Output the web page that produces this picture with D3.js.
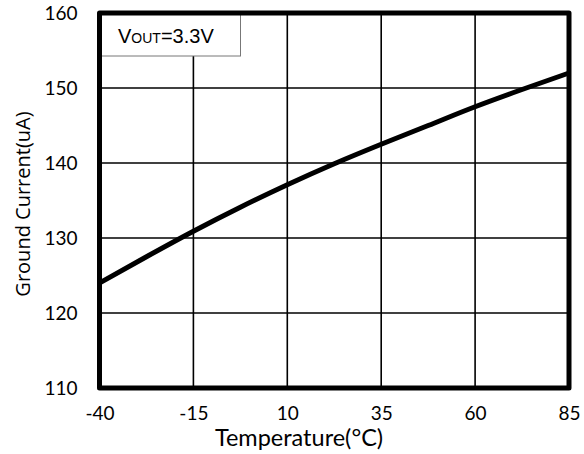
<!DOCTYPE html>
<html><head><meta charset="utf-8">
<script src="https://cdn.jsdelivr.net/npm/d3@7"></script>
<style>body{margin:0;background:#fff}svg{display:block}</style>
</head><body>
<svg id="c" width="584" height="454"></svg>
<script>
const temps = [-40, -27.5, -15, -2.5, 10, 22.5, 35, 47.5, 60, 72.5, 85];
const current = [124.0, 127.5, 130.9, 134.1, 137.1, 139.9, 142.5, 145.0, 147.5, 149.8, 152.0];
const xTicks = [-40, -15, 10, 35, 60, 85];
const yTicks = [110, 120, 130, 140, 150, 160];
const xTitle = "Temperature(°C)";
const yTitle = "Ground Current(uA)";

const W = 584, H = 454;
const m = {l: 99.5, t: 13, r: 15, b: 66};
const svg = d3.select("#c");
const x = d3.scaleLinear().domain([-40, 85]).range([m.l, W - m.r]);
const y = d3.scaleLinear().domain([110, 160]).range([H - m.b, m.t]);

// grid
const grid = svg.append("g").attr("stroke", "#000").attr("stroke-width", 1.6);
grid.selectAll("line.v").data(xTicks.slice(1, -1)).enter().append("line")
  .attr("x1", d => x(d)).attr("x2", d => x(d)).attr("y1", y(160)).attr("y2", y(110));
grid.selectAll("line.h").data(yTicks.slice(1, -1)).enter().append("line")
  .attr("y1", d => y(d)).attr("y2", d => y(d)).attr("x1", x(-40)).attr("x2", x(85));

// curve
const pts = temps.map((t, i) => [t, current[i]]);
svg.append("path").datum(pts)
  .attr("d", d3.line().x(d => x(d[0])).y(d => y(d[1])).curve(d3.curveMonotoneX))
  .attr("fill", "none").attr("stroke", "#000").attr("stroke-width", 5);

// legend box
svg.append("rect").attr("x", x(-40)).attr("y", y(160)).attr("width", 141).attr("height", 43)
  .attr("fill", "#fff").attr("stroke", "#777").attr("stroke-width", 1);
const lt = svg.append("text").attr("x", 118).attr("y", 43)
  .attr("font-family", "Liberation Sans, Arial, sans-serif").attr("font-size", 20).attr("fill", "#000");
lt.append("tspan").text("V");
lt.append("tspan").attr("font-size", 14).text("OUT");
lt.append("tspan").text("=3.3V");

// frame
svg.append("rect").attr("x", x(-40)).attr("y", y(160)).attr("width", x(85) - x(-40)).attr("height", y(110) - y(160))
  .attr("fill", "none").attr("stroke", "#000").attr("stroke-width", 5).attr("stroke-linejoin", "round");

// axes labels
const font = "Lato, sans-serif";
const xAxis = d3.axisBottom(x).tickValues(xTicks).tickSize(0).tickPadding(19).tickFormat(d => String(d));
const gx = svg.append("g").attr("transform", `translate(0,${y(110)})`).call(xAxis);
gx.select(".domain").remove();
gx.selectAll("text").attr("font-family", font).attr("font-size", 19).attr("fill", "#000");

const yAxis = d3.axisLeft(y).tickValues(yTicks).tickSize(0).tickPadding(22).tickFormat(d => String(d));
const gy = svg.append("g").attr("transform", `translate(${x(-40)},0)`).call(yAxis);
gy.select(".domain").remove();
gy.selectAll("text").attr("font-family", font).attr("font-size", 19).attr("fill", "#000");

svg.append("text").attr("x", 299).attr("y", 446).attr("text-anchor", "middle")
  .attr("font-family", font).attr("font-size", 23.5).attr("fill", "#000").text(xTitle);
svg.append("text").attr("transform", "translate(30,204) rotate(-90)").attr("text-anchor", "middle")
  .attr("font-family", "Open Sans, sans-serif").attr("font-size", 20).attr("fill", "#000")
  .text(yTitle);
</script>
</body></html>
